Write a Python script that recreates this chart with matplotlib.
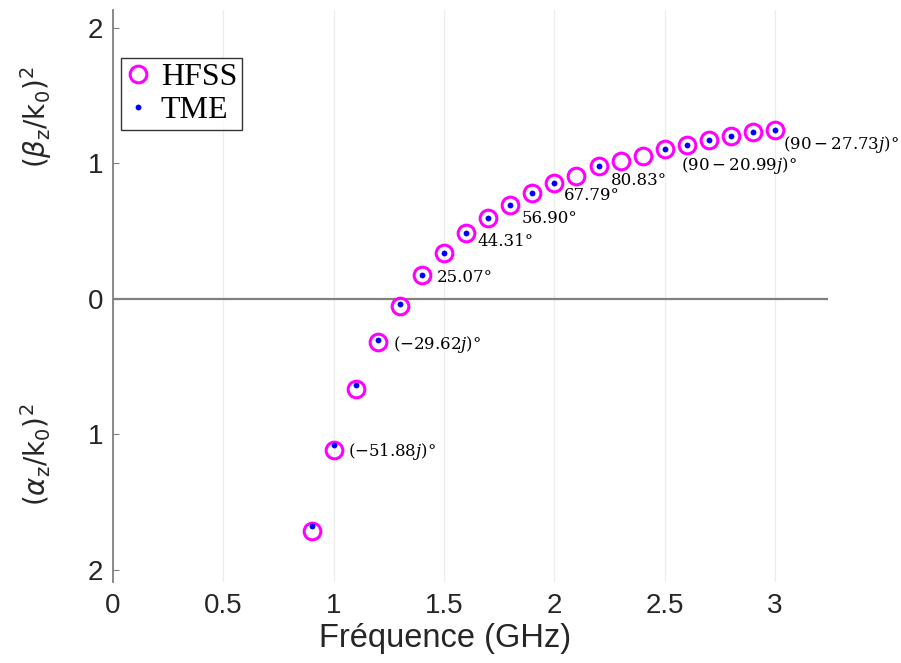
import matplotlib
matplotlib.use('Agg')
import matplotlib.pyplot as plt
import matplotlib.transforms as mtransforms
from matplotlib.ticker import FuncFormatter

# Données
freq_hfss = [0.9, 1.0, 1.1, 1.2, 1.3, 1.4, 1.5, 1.6, 1.7, 1.8, 1.9,
             2.0, 2.1, 2.2, 2.3, 2.4, 2.5, 2.6, 2.7, 2.8, 2.9, 3.0]
val_hfss = [-1.717, -1.114, -0.667, -0.322, -0.057, 0.172, 0.337, 0.485, 0.596, 0.692, 0.777,
            0.854, 0.908, 0.976, 1.013, 1.050, 1.102, 1.137, 1.173, 1.198, 1.227, 1.247]

freq_tme = [0.9, 1.0, 1.1, 1.2, 1.3, 1.4, 1.5, 1.6, 1.7, 1.8, 1.9,
            2.0, 2.2, 2.5, 2.6, 2.7, 2.8, 2.9, 3.0]
val_tme = [-1.675, -1.077, -0.637, -0.303, -0.037, 0.175, 0.337, 0.485, 0.596, 0.692, 0.777,
           0.854, 0.976, 1.102, 1.137, 1.173, 1.198, 1.227, 1.247]

# angles annotés (point HFSS associé)
angle_freq = [1.0, 1.2, 1.4, 1.6, 1.8, 2.0, 2.2, 2.5, 3.0]
angle_txt = [r'$(-51.88j)$°', r'$(-29.62j)$°', '25.07°', '44.31°', '56.90°',
             '67.79°', '80.83°', r'$(90-20.99j)$°', r'$(90-27.73j)$°']
angle_off = [(10, -1.5), (11, -1.5), (11, -1.5), (8, -6), (8, -10), (7, -9), (9, -10), (12, -11.5), (6, -10.5)]

fig = plt.figure(figsize=(9.01, 6.63), dpi=100)
ax = fig.add_axes([0.1254, 0.1222, 0.7936, 0.8628])

grey = '#808080'
ax.set_xlim(0, 3.24)
ax.set_ylim(-2.09, 2.13)
ax.set_xticks([0, 0.5, 1, 1.5, 2, 2.5, 3])
ax.set_xticklabels(['0', '0.5', '1', '1.5', '2', '2.5', '3'])
ax.set_yticks([-2, -1, 0, 1, 2])
ax.yaxis.set_major_formatter(FuncFormatter(lambda v, p: f'{abs(v):g}'))
ax.grid(axis='x', color='#ededed', lw=0.9)
ax.set_axisbelow(True)
ax.axhline(0, color=grey, lw=1.6, zorder=1)

for s in ['top', 'right', 'bottom']:
    ax.spines[s].set_visible(False)
ax.spines['left'].set_color(grey)
ax.spines['left'].set_linewidth(1.3)
ax.tick_params(axis='y', direction='in', length=4.5, color=grey, pad=7,
               labelsize=20, labelcolor='#262626')
ax.tick_params(axis='x', length=0, pad=8, labelsize=20, labelcolor='#262626')
for lab in ax.get_xticklabels() + ax.get_yticklabels():
    lab.set_family('Liberation Sans')

h1, = ax.plot(freq_hfss, val_hfss, 'o', mfc='none', mec='#ff00ff', ms=12, mew=2.2,
              label='HFSS', zorder=3)
h2, = ax.plot(freq_tme, val_tme, 'o', color='#0000ff', mec='none', ms=4.2,
              label='TME', zorder=4)

for f, t, off in zip(angle_freq, angle_txt, angle_off):
    y = val_hfss[freq_hfss.index(f)]
    ax.annotate(t, (f, y), xytext=off, textcoords='offset points', ha='left', va='center',
                fontsize=12, family='DejaVu Serif', math_fontfamily='dejavuserif')

ax.set_xlabel('Fréquence (GHz)', fontsize=23.5, family='Liberation Sans', color='#262626',
              labelpad=1)
ax.xaxis.set_label_coords(0.464, -0.072)

trans = mtransforms.blended_transform_factory(ax.transAxes, ax.transData)
ax.text(-0.108, 1.34, r'$(\beta_\mathrm{z}/\mathrm{k}_0)^2$', transform=trans, rotation=90,
        ha='center', va='center', fontsize=20, color='#262626')
ax.text(-0.108, -1.15, r'$(\alpha_\mathrm{z}/\mathrm{k}_0)^2$', transform=trans, rotation=90,
        ha='center', va='center', fontsize=20, color='#262626')

leg = ax.legend(handles=[h1, h2], loc='upper left', bbox_to_anchor=(0.134, 0.9125),
                bbox_transform=fig.transFigure, prop={'family': 'Liberation Serif', 'size': 23},
                frameon=True, fancybox=False, borderpad=0.15, labelspacing=0.1,
                handlelength=0.8, handletextpad=0.3, borderaxespad=0)
leg.get_frame().set_edgecolor('black')
leg.get_frame().set_linewidth(1)

fig.savefig('out.png', dpi=100)
